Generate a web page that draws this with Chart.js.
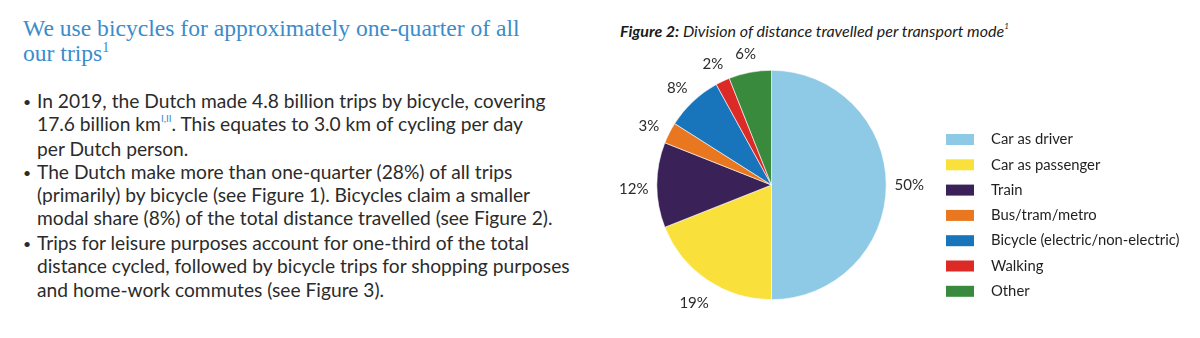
<!DOCTYPE html>
<html>
<head>
<meta charset="utf-8">
<script src="https://cdn.jsdelivr.net/npm/chart.js@4.4.1/dist/chart.umd.min.js"></script>
<style>
  html, body { margin:0; padding:0; width:1200px; height:338px; background:#fff; overflow:hidden; }
  #wrap { position:relative; width:1200px; height:338px; }
  #c { position:absolute; left:0; top:0; }
  sup { vertical-align:baseline; position:relative; line-height:0; }
  .h { position:absolute; left:23px; font-family:"Liberation Serif", serif; font-size:23.6px; color:#3b8ccb; white-space:nowrap; line-height:24px; }
  .h sup { font-size:14px; top:-0.65em; }
  .ln { position:absolute; left:37px; font-family:"Lato", sans-serif; font-size:19.2px; color:#2b2b2b; white-space:nowrap; line-height:23px; }
  .bu { position:absolute; left:23px; font-family:"Lato", sans-serif; font-size:14px; color:#2b2b2b; line-height:23px; }
  .ln sup { font-size:10px; color:#3b8ccb; top:-0.9em; }
  .ft { position:absolute; left:620px; top:21px; font-family:"Lato", sans-serif; font-style:italic; font-size:16px; color:#1a1a1a; white-space:nowrap; line-height:20px; }
  .ft b { font-weight:700; }
  .ft sup { font-size:8px; top:-1em; }
</style>
</head>
<body>
<div id="wrap">
  <div class="h" style="top:16px">We use bicycles for approximately one-quarter of all</div>
  <div class="h" style="top:41px">our trips<sup>1</sup></div>

  <div class="bu" style="top:90px">•</div>
  <div class="ln" style="top:89px">In 2019, the Dutch made 4.8 billion trips by bicycle, covering</div>
  <div class="ln" style="top:112px">17.6 billion km<sup>I,II</sup>. This equates to 3.0 km of cycling per day</div>
  <div class="ln" style="top:137px">per Dutch person.</div>
  <div class="bu" style="top:161px">•</div>
  <div class="ln" style="top:160px">The Dutch make more than one-quarter (28%) of all trips</div>
  <div class="ln" style="top:183px">(primarily) by bicycle (see Figure 1). Bicycles claim a smaller</div>
  <div class="ln" style="top:206px">modal share (8%) of the total distance travelled (see Figure 2).</div>
  <div class="bu" style="top:232px">•</div>
  <div class="ln" style="top:231px">Trips for leisure purposes account for one-third of the total</div>
  <div class="ln" style="top:254px">distance cycled, followed by bicycle trips for shopping purposes</div>
  <div class="ln" style="top:278px">and home-work commutes (see Figure 3).</div>

  <div class="ft"><b>Figure 2:</b> Division of distance travelled per transport mode<sup>1</sup></div>
  <canvas id="c" width="1200" height="338"></canvas>
</div>
<script>
const categories = ["Car as driver", "Car as passenger", "Train", "Bus/tram/metro", "Bicycle (electric/non-electric)", "Walking", "Other"];
const shares = [50, 19, 12, 3, 8, 2, 6];
const valueLabels = ["50%", "19%", "12%", "3%", "8%", "2%", "6%"];
const colors = ["#8ecae6", "#f9e03b", "#3a2259", "#e8771f", "#1874bb", "#dc2b27", "#3a8a3e"];

const sliceLabels = {
  id: 'sliceLabels',
  afterDatasetsDraw(chart, args, opts) {
    const ctx = chart.ctx;
    const meta = chart.getDatasetMeta(0);
    ctx.save();
    ctx.font = opts.font;
    ctx.fillStyle = opts.color;
    ctx.textAlign = 'center';
    ctx.textBaseline = 'middle';
    meta.data.forEach((arc, i) => {
      const p = arc.getProps(['x', 'y', 'startAngle', 'endAngle', 'outerRadius'], true);
      const mid = (p.startAngle + p.endAngle) / 2;
      const r = p.outerRadius + opts.offset;
      const dy = Math.cos(mid) > 0.95 ? 0 : opts.yShift;
      ctx.fillText(valueLabels[i], p.x + Math.cos(mid) * r, p.y + Math.sin(mid) * r + dy);
    });
    ctx.restore();
  }
};

const boxLegend = {
  id: 'boxLegend',
  afterDraw(chart, args, opts) {
    const ctx = chart.ctx;
    const ds = chart.data.datasets[0];
    ctx.save();
    ctx.font = opts.font;
    ctx.textBaseline = 'middle';
    ctx.textAlign = 'left';
    chart.data.labels.forEach((lab, i) => {
      const cy = opts.y + i * opts.step;
      ctx.fillStyle = ds.backgroundColor[i];
      ctx.fillRect(opts.x, cy - opts.boxH / 2, opts.boxW, opts.boxH);
      ctx.fillStyle = opts.color;
      ctx.fillText(lab, opts.textX, cy);
    });
    ctx.restore();
  }
};

new Chart(document.getElementById('c'), {
  type: 'pie',
  data: {
    labels: categories,
    datasets: [{
      data: shares,
      backgroundColor: colors,
      borderColor: '#ffffff',
      borderWidth: 0.6
    }]
  },
  options: {
    responsive: false,
    animation: false,
    devicePixelRatio: 1,
    layout: { padding: { left: 656.5, right: 313.5, top: 70, bottom: 38 } },
    plugins: {
      legend: { display: false },
      tooltip: { enabled: false },
      sliceLabels: { font: '15px Lato, sans-serif', color: '#2b2b2b', offset: 23, yShift: 4 },
      boxLegend: { x: 946, y: 139.5, step: 25.3, boxW: 28, boxH: 11, textX: 991, font: '14.8px Lato, sans-serif', color: '#1f1f1f' }
    }
  },
  plugins: [sliceLabels, boxLegend]
});
</script>
</body>
</html>
